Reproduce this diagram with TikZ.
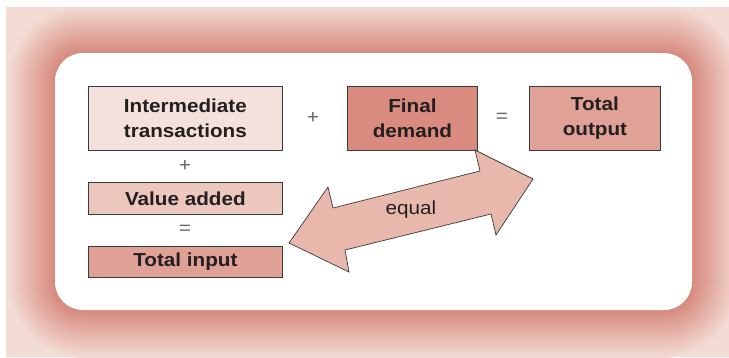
\documentclass[tikz,border=0pt]{standalone}
\usepackage{fontspec}
\setmainfont{Liberation Sans}[FakeStretch=1.1]
\definecolor{cInter}{HTML}{F5E1DB}
\definecolor{cValue}{HTML}{ECC7BE}
\definecolor{cInput}{HTML}{DFA196}
\definecolor{cFinal}{HTML}{D98B7F}
\definecolor{cOutput}{HTML}{E0A297}
\definecolor{cArrow}{HTML}{E8B8AC}
\definecolor{glowdark}{HTML}{D88A7E}
\definecolor{glowlight}{HTML}{F3DCD4}
\definecolor{boxline}{HTML}{3A3A3A}
\definecolor{txt}{HTML}{231F20}
\definecolor{opgray}{HTML}{666666}
\begin{document}
\begin{tikzpicture}[x=1pt,y=-1pt,
  box/.style={draw=boxline, line width=0.8pt, anchor=north west, align=center,
    text=txt, inner sep=0pt, font=\bfseries\fontsize{18.8}{25}\selectfont},
  op/.style={text=opgray, font=\fontsize{19}{19}\selectfont, inner sep=0pt}]
\useasboundingbox (0,0) rectangle (729,357);
% glowing frame
\begin{scope}
  \clip (6,7) rectangle (729,357);
  \fill[glowlight] (6,7) rectangle (729,357);
  \foreach \i [evaluate=\i as \p using int(\i*100/47), evaluate=\i as \r using 76-\i] in {0,...,47}
    \fill[glowdark!\p!glowlight, rounded corners=\r pt] (7+\i,5+\i) rectangle (740-\i,358-\i);
\end{scope}
\fill[white, rounded corners=28pt] (55,53) rectangle (692,310);
% boxes
\node[box, fill=cInter, minimum width=194pt, minimum height=64pt] (inter) at (88,86) {Intermediate\\transactions};
\node[box, fill=cValue, minimum width=194pt, minimum height=32pt] (value) at (88,182) {Value added};
\node[box, fill=cInput, minimum width=194pt, minimum height=31pt] (input) at (88,246) {Total input};
\node[box, fill=cFinal, minimum width=130pt, minimum height=64pt] (final) at (347,86) {Final\\demand};
\node[box, fill=cOutput, minimum width=131pt, minimum height=64pt] (output) at (529,86) {Total\\output};
% operators
\node[op] (plus1) at (185,166) {+};
\node[op] (eq1) at (185,230) {=};
\node[op] (plus2) at (313,118) {+};
\node[op] (eq2) at (502,118) {=};
% double arrow
\draw[fill=cArrow, draw=boxline, line width=0.7pt, line join=miter]
  (289,243) -- (328,187) -- (333,208) -- (480,171) -- (475,150) -- (533,179)
  -- (496,235) -- (491,214) -- (345,250) -- (349,272) -- cycle;
\node[text=txt, font=\fontsize{18.8}{20}\selectfont, inner sep=0pt] (eqlabel) at (411,210) {equal};
\end{tikzpicture}
\end{document}
